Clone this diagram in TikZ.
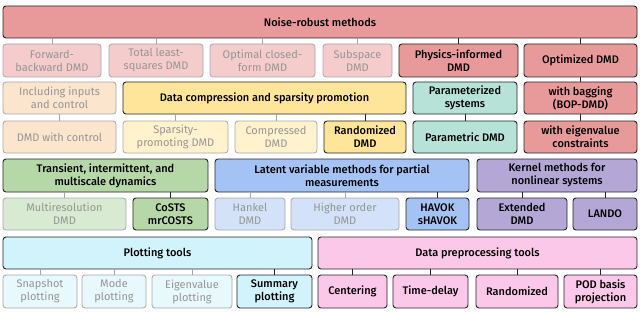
\documentclass[tikz,border=0pt]{standalone}
\usepackage{fontspec}
\setmainfont{Fira Sans}
\newfontfamily\medfont{Fira Sans Medium}
\definecolor{redc}{HTML}{E89A9B}
\definecolor{redl}{HTML}{F4CCCC}
\definecolor{peach}{HTML}{FCE5CD}
\definecolor{yel}{HTML}{FFE599}
\definecolor{yell}{HTML}{FFF2CC}
\definecolor{teal}{HTML}{B6E2D8}
\definecolor{grn}{HTML}{B6D7A8}
\definecolor{grnl}{HTML}{D9EAD3}
\definecolor{blu}{HTML}{A4C2F4}
\definecolor{blul}{HTML}{D3E1F9}
\definecolor{purp}{HTML}{B4A7D6}
\definecolor{cyn}{HTML}{D0F3FC}
\definecolor{cynl}{HTML}{E7F9FD}
\definecolor{pnk}{HTML}{FBC8EA}
\definecolor{fadetext}{HTML}{959595}
\definecolor{fadeline}{HTML}{A6A6A6}
\tikzset{
  box/.style={rounded corners=3pt, inner sep=1pt, align=center},
  main/.style={box, draw=black!85, line width=0.9pt, text=black,
    font=\medfont\fontsize{11}{13}\selectfont},
  faded/.style={box, draw=fadeline, line width=0.8pt, text=fadetext,
    font=\fontsize{11}{13}\selectfont},
  link/.style={draw=black!85, line width=0.8pt},
  fadelink/.style={draw=fadeline, line width=0.8pt},
}
\begin{document}
\begin{tikzpicture}[x=1pt,y=-1pt]
\useasboundingbox (0,0) rectangle (640,313);
% noise-robust branch
\node[main, fill=redc, minimum width=634, minimum height=32] (noise) at (320,22) {Noise-robust methods};
\node[faded, fill=redl, minimum width=98, minimum height=33] (fb) at (52,60.5) {Forward-\\backward DMD};
\node[faded, fill=redl, minimum width=94, minimum height=33] (tls) at (156,60.5) {Total least-\\squares DMD};
\node[faded, fill=redl, minimum width=105, minimum height=33] (ocf) at (262.5,60.5) {Optimal closed-\\form DMD};
\node[faded, fill=redl, minimum width=69, minimum height=33] (sub) at (357.5,60.5) {Subspace\\DMD};
\node[main, fill=redc, minimum width=119, minimum height=33] (pi) at (458.5,60.5) {Physics-informed\\DMD};
\node[main, fill=redc, minimum width=113, minimum height=33] (opt) at (580.5,60.5) {Optimized DMD};
\node[main, fill=redc, minimum width=113, minimum height=32] (bag) at (580.5,98) {with bagging\\(BOP-DMD)};
\node[main, fill=redc, minimum width=113, minimum height=32] (eig) at (580.5,137) {with eigenvalue\\constraints};
% control
\node[faded, fill=peach, minimum width=113, minimum height=32] (inp) at (59.5,98) {Including inputs\\and control};
\node[faded, fill=peach, minimum width=113, minimum height=32] (ctrl) at (59.5,137) {DMD with control};
% compression
\node[main, fill=yel, minimum width=283, minimum height=32] (comp) at (264.5,98) {Data compression and sparsity promotion};
\node[faded, fill=yell, minimum width=105, minimum height=32] (spdmd) at (175.5,137) {Sparsity-\\promoting DMD};
\node[faded, fill=yell, minimum width=82, minimum height=32] (cdmd) at (276,137) {Compressed\\DMD};
\node[main, fill=yel, minimum width=82, minimum height=32] (rdmd) at (365,137) {Randomized\\DMD};
% parameterized
\node[main, fill=teal, minimum width=104, minimum height=32] (param) at (465,98) {Parameterized\\systems};
\node[main, fill=teal, minimum width=104, minimum height=32] (pdmd) at (465,137) {Parametric DMD};
% transient
\node[main, fill=grn, minimum width=205, minimum height=33] (trans) at (105.5,175.5) {Transient, intermittent, and\\multiscale dynamics};
\node[faded, fill=grnl, minimum width=123, minimum height=32] (mr) at (64.5,214) {Multiresolution\\DMD};
\node[main, fill=grn, minimum width=75, minimum height=32] (costs) at (170.5,214) {CoSTS\\mrCOSTS};
% latent
\node[main, fill=blu, minimum width=254, minimum height=33] (latent) at (342,175.5) {Latent variable methods for partial\\measurements};
\node[faded, fill=blul, minimum width=70, minimum height=32] (hankel) at (250,214) {Hankel\\DMD};
\node[faded, fill=blul, minimum width=108, minimum height=32] (hodmd) at (345,214) {Higher order\\DMD};
\node[main, fill=blu, minimum width=63, minimum height=32] (havok) at (437.5,214) {HAVOK\\sHAVOK};
% kernel
\node[main, fill=purp, minimum width=160, minimum height=33] (kernel) at (557,175.5) {Kernel methods for\\nonlinear systems};
\node[main, fill=purp, minimum width=90, minimum height=32] (edmd) at (522,214) {Extended\\DMD};
\node[main, fill=purp, minimum width=64, minimum height=32] (lando) at (605,214) {LANDO};
% plotting
\node[main, fill=cyn, minimum width=309, minimum height=32] (plot) at (157.5,253) {Plotting tools};
\node[faded, fill=cynl, minimum width=74, minimum height=33] (snap) at (40,291.5) {Snapshot\\plotting};
\node[faded, fill=cynl, minimum width=64, minimum height=33] (mode) at (114,291.5) {Mode\\plotting};
\node[faded, fill=cynl, minimum width=80, minimum height=33] (eigplot) at (192,291.5) {Eigenvalue\\plotting};
\node[main, fill=cyn, minimum width=75, minimum height=33] (summ) at (274.5,291.5) {Summary\\plotting};
% preprocessing
\node[main, fill=pnk, minimum width=319, minimum height=32] (prep) at (477.5,253) {Data preprocessing tools};
\node[main, fill=pnk, minimum width=69, minimum height=33] (cent) at (352.5,291.5) {Centering};
\node[main, fill=pnk, minimum width=75, minimum height=33] (tdel) at (430.5,291.5) {Time-delay};
\node[main, fill=pnk, minimum width=82, minimum height=33] (rand) at (517,291.5) {Randomized};
\node[main, fill=pnk, minimum width=73, minimum height=33] (pod) at (600.5,291.5) {POD basis\\projection};
% links
\foreach \c in {fb,tls,ocf,sub}
  \draw[fadelink] (noise.south -| \c.north) -- (\c.north);
\foreach \c in {pi,opt}
  \draw[link] (noise.south -| \c.north) -- (\c.north);
\draw[link] (opt) -- (bag);
\draw[link] (bag) -- (eig);
\draw[fadelink] (inp) -- (ctrl);
\foreach \c in {spdmd,cdmd}
  \draw[fadelink] (comp.south -| \c.north) -- (\c.north);
\draw[link] (comp.south -| rdmd.north) -- (rdmd.north);
\draw[link] (param) -- (pdmd);
\draw[fadelink] (trans.south -| mr.north) -- (mr.north);
\draw[link] (trans.south -| costs.north) -- (costs.north);
\foreach \c in {hankel,hodmd}
  \draw[fadelink] (latent.south -| \c.north) -- (\c.north);
\draw[link] (latent.south -| havok.north) -- (havok.north);
\foreach \c in {edmd,lando}
  \draw[link] (kernel.south -| \c.north) -- (\c.north);
\foreach \c in {snap,mode,eigplot}
  \draw[fadelink] (plot.south -| \c.north) -- (\c.north);
\draw[link] (plot.south -| summ.north) -- (summ.north);
\foreach \c in {cent,tdel,rand,pod}
  \draw[link] (prep.south -| \c.north) -- (\c.north);
\end{tikzpicture}
\end{document}
